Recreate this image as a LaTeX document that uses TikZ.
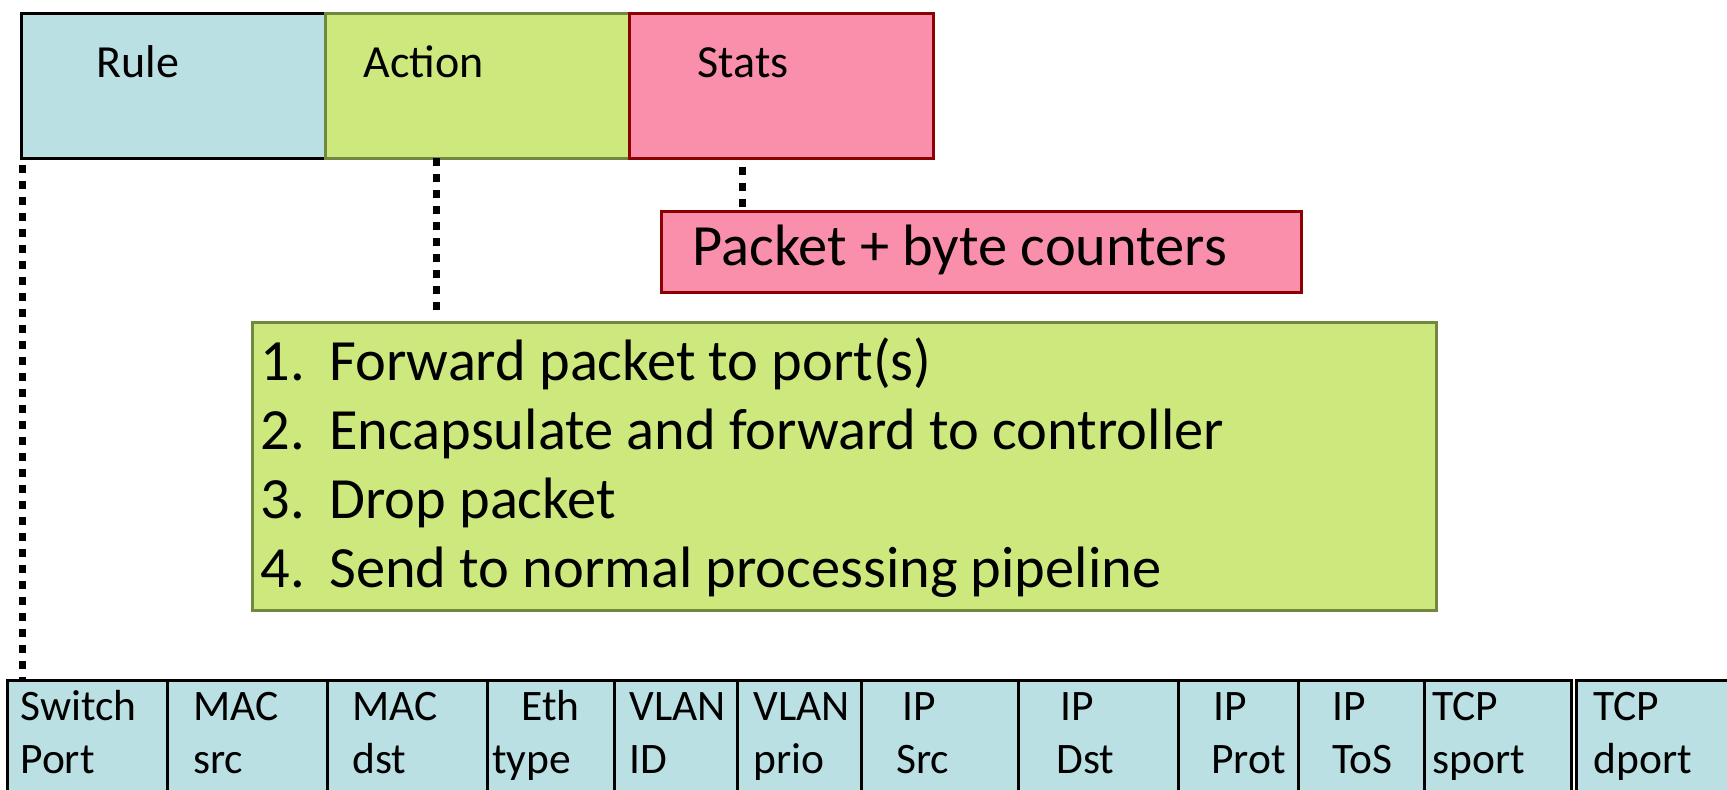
\documentclass[tikz,border=0pt]{standalone}
\usepackage{fontspec}
\setmainfont{Carlito}
\definecolor{rulefill}{HTML}{BAE0E3}
\definecolor{actfill}{HTML}{CDE87D}
\definecolor{statfill}{HTML}{F98FAB}
\definecolor{actline}{HTML}{71893F}
\definecolor{statline}{HTML}{8B0000}
\tikzset{
  box/.style={draw, line width=1.5pt, inner sep=0pt, outer sep=0pt, anchor=north west},
  toplbl/.style={anchor=base west, inner sep=0pt, font=\fontsize{23pt}{27pt}\selectfont},
  biglbl/.style={anchor=base west, inner sep=0pt, font=\fontsize{29.2pt}{34pt}\selectfont},
  celllbl/.style={anchor=base west, inner sep=0pt, font=\fontsize{21.75pt}{26pt}\selectfont},
  dotline/.style={line width=3.5pt, dash pattern=on 4pt off 4pt, black},
}
\begin{document}
\begin{tikzpicture}[x=0.5pt,y=-0.5pt]
\useasboundingbox (0,0) rectangle (1727,789);
\clip (0,0) rectangle (1727,789);
% top table
\node[box, fill=rulefill, draw=black, minimum width=152pt, minimum height=72.5pt] (rule) at (21,13) {};
\node[box, fill=actfill, draw=actline, minimum width=152pt, minimum height=72.5pt] (action) at (325,13) {};
\node[box, fill=statfill, draw=statline, minimum width=152pt, minimum height=72.5pt] (stats) at (629,13) {};
\node[toplbl] (rulet) at (96,77) {Rule};
\node[toplbl] (actiont) at (363,77) {Action};
\node[toplbl] (statst) at (697,77) {Stats};
% packet counters
\node[box, fill=statfill, draw=statline, minimum width=320pt, minimum height=40.5pt] (packet) at (661,211) {};
\node[biglbl] (packett) at (692,265) {Packet + byte counters};
% action list
\node[box, fill=actfill, draw=actline, minimum width=592pt, minimum height=144pt] (list) at (252,322) {};
\node[biglbl] (n1) at (260,380) {1.};
\node[biglbl] (l1) at (329,380) {Forward packet to port(s)};
\node[biglbl] (n2) at (260,449) {2.};
\node[biglbl] (l2) at (329,449) {Encapsulate and forward to controller};
\node[biglbl] (n3) at (260,518) {3.};
\node[biglbl] (l3) at (329,518) {Drop packet};
\node[biglbl] (n4) at (260,587) {4.};
\node[biglbl] (l4) at (329,587) {Send to normal processing pipeline};
% header fields
\foreach \i/\a/\b in {1/7/167, 2/167/327, 3/327/487, 4/487/614, 5/614/737, 6/737/861, 7/861/1018, 8/1018/1178, 9/1178/1298, 10/1298/1424, 11/1424/1571, 12/1576/1760} {
  \pgfmathsetmacro{\w}{(\b-\a)/2}
  \node[box, fill=rulefill, draw=black, minimum width=\w pt, minimum height=70pt] (c\i) at (\a,680) {};
}
\foreach \i/\xa/\ta/\xb/\tb in {1/20/Switch/20/Port, 2/193/MAC/193/src, 3/352/MAC/352/dst, 4/521/Eth/492/type, 5/629/VLAN/629/ID, 6/753/VLAN/753/prio, 7/902/IP/896/Src, 8/1060/IP/1056/Dst, 9/1213/IP/1211/Prot, 10/1332/IP/1332/ToS, 11/1432/TCP/1432/sport, 12/1593/TCP/1593/dport} {
  \node[celllbl] (f\i a) at (\xa,720) {\ta};
  \node[celllbl] (f\i b) at (\xb,773) {\tb};
}
% connectors
\draw[dotline] ([xshift=0.5pt,yshift=-3.5pt]rule.south west) -- ([xshift=0.5pt]rule.south west |- c1.north);
\draw[dotline, shorten >=4pt] ([xshift=55.5pt]action.south west) -- ([xshift=55.5pt]action.south west |- list.north);
\draw[dotline, shorten <=4.5pt, shorten >=2pt] ([xshift=56.5pt]stats.south west) -- ([xshift=56.5pt]stats.south west |- packet.north);
\end{tikzpicture}
\end{document}
